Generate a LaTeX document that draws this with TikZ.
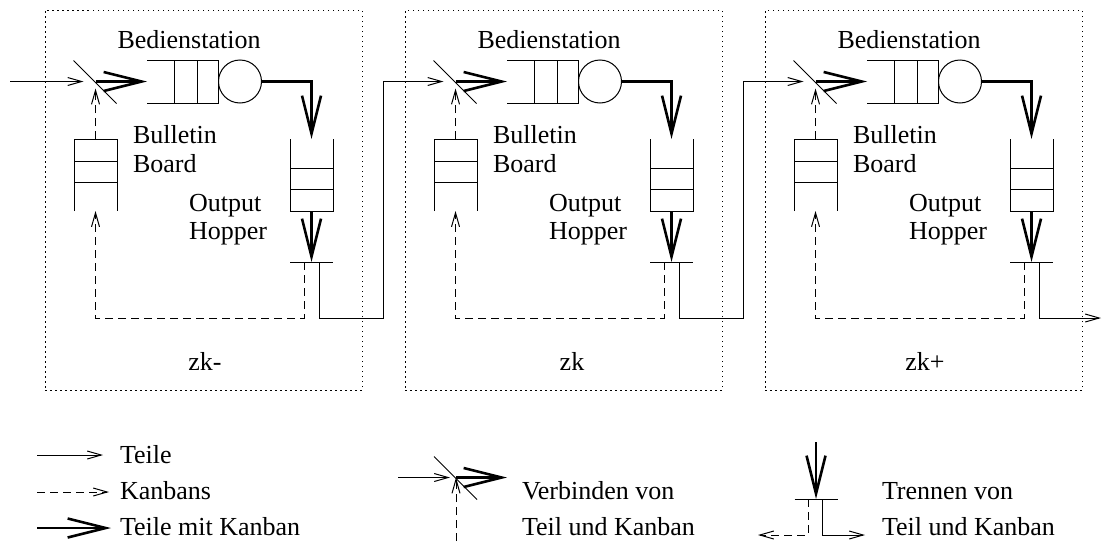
\documentclass[tikz,border=0pt]{standalone}
\usepackage{fontspec}
\setmainfont{Liberation Serif}
\usetikzlibrary{arrows.meta}
\begin{document}
\begin{tikzpicture}[x=1pt,y=-1pt,
  every node/.style={inner sep=0pt, outer sep=0pt},
  lbl/.style={font=\fontsize{26}{30}\selectfont, anchor=base west},
  clbl/.style={font=\fontsize{26}{30}\selectfont, anchor=base},
  part/.style={line width=1pt},
  partar/.style={part, -{Straight Barb[length=14pt,width=8pt]}},
  kan/.style={line width=1pt, dash pattern=on 8pt off 5pt},
  kanar/.style={kan, -{Straight Barb[length=14pt,width=8pt]}},
  thickar/.style={line width=2.6pt, -{Straight Barb[length=38pt,width=19pt]}},
  dotbox/.style={draw, line width=1pt, dash pattern=on 1.5pt off 3.5pt},
  box/.style={minimum width=43pt, minimum height=72pt},
  bar/.style={minimum width=43pt, minimum height=0pt}]
\useasboundingbox (0,0) rectangle (1103,541);

\foreach \i/\dx/\zx/\zl in {1/0/205/zk-, 2/360/212/zk, 3/720/205/zk+} {
\begin{scope}[xshift=\dx pt]
  \node[dotbox, minimum width=317pt, minimum height=380pt] (box\i) at (203.5,200) {};
  \coordinate (sw\i) at (95.5,81.5);
  \draw[part] (sw\i) +(-22,-21) -- +(21,22);
  % queue and server
  \node[minimum width=71pt, minimum height=43pt] (q\i) at (182.5,81.5) {};
  \draw[part] (q\i.north west) -- (q\i.north east) -- (q\i.south east) -- (q\i.south west);
  \draw[part] (q\i.north west) ++(27,0) -- ++(0,43)
              (q\i.north west) ++(50,0) -- ++(0,43);
  \node[circle, draw, line width=1pt, minimum size=43pt] (s\i) at (240,81.5) {};
  \draw[thickar] (sw\i) -- (q\i.west);
  % output hopper
  \node[box] (hp\i) at (311.5,175) {};
  \draw[part] (hp\i.north west) -- (hp\i.south west) -- (hp\i.south east) -- (hp\i.north east);
  \draw[part] (hp\i.south west) ++(0,-22) -- ++(43,0)
              (hp\i.south west) ++(0,-43) -- ++(43,0);
  \draw[thickar] (s\i.east) -| (hp\i.north);
  % separator
  \node[bar] (tb\i) at (311.5,262) {};
  \draw[part] (tb\i.west) -- (tb\i.east);
  \draw[thickar] (hp\i.south) -- (tb\i.center);
  \coordinate (kb\i) at (304,262);
  \coordinate (ot\i) at (319,262);
  % bulletin board
  \node[box] (bb\i) at (95.5,175) {};
  \draw[part] (bb\i.south west) -- (bb\i.north west) -- (bb\i.north east) -- (bb\i.south east);
  \draw[part] (bb\i.north west) ++(0,22) -- ++(43,0)
              (bb\i.north west) ++(0,43) -- ++(43,0);
  \coordinate (lo\i) at (95.5,318);
  \draw[kanar] (kb\i) |- (lo\i) -- (bb\i.south);
  \draw[kanar, shorten >=7pt] (bb\i.north) -- (sw\i);
  \coordinate (rs\i) at (383,318);
  % labels
  \node[clbl] (bed\i) at (189,48) {Bedienstation};
  \node[lbl] (bul\i) at (133,143) {Bulletin};
  \node[lbl] (brd\i) at (133,172) {Board};
  \node[lbl] (out\i) at (189,211) {Output};
  \node[lbl] (hop\i) at (189,239) {Hopper};
  \node[clbl] (zk\i) at (\zx,370) {\zl};
\end{scope}
}
% connectors between stations
\coordinate (in) at (10,81.5);
\draw[partar, shorten >=12pt] (in) -- (sw1);
\draw[partar, shorten >=12pt] (ot1) |- (rs1) |- (sw2);
\draw[partar, shorten >=12pt] (ot2) |- (rs2) |- (sw3);
\coordinate (end) at (1101,318);
\draw[partar] (ot3) |- (end);

% legend left
\coordinate (l1a) at (37,455); \coordinate (l1b) at (103,455);
\coordinate (l2a) at (37,492); \coordinate (l2b) at (109,492);
\coordinate (l3a) at (37,528); \coordinate (l3b) at (111,528);
\draw[partar] (l1a) -- (l1b);
\draw[kanar] (l2a) -- (l2b);
\draw[thickar] (l3a) -- (l3b);
\node[lbl] (lt1) at (120,463) {Teile};
\node[lbl] (lt2) at (120,499) {Kanbans};
\node[lbl] (lt3) at (120,535) {Teile mit Kanban};

% legend middle
\coordinate (vsw) at (456,477.5);
\coordinate (vin) at (398,477.5);
\coordinate (vout) at (507,477.5);
\coordinate (vk) at (456,541);
\draw[part] (vsw) +(-22,-21) -- +(21,22);
\draw[partar, shorten >=6pt] (vin) -- (vsw);
\draw[thickar] (vsw) -- (vout);
\draw[kanar] (vk) -- (vsw);
\node[lbl] (vt1) at (522,499) {Verbinden von};
\node[lbl] (vt2) at (522,535) {Teil und Kanban};

% legend right
\coordinate (ttop) at (816,442);
\node[bar] (ttb) at (816,499) {};
\draw[part] (ttb.west) -- (ttb.east);
\draw[thickar] (ttop) -- (ttb.center);
\coordinate (tk) at (808,499); \coordinate (tkl) at (758,535);
\coordinate (to) at (822,499); \coordinate (tor) at (865,535);
\draw[kanar] (tk) |- (tkl);
\draw[partar] (to) |- (tor);
\node[lbl] (tt1) at (882,499) {Trennen von};
\node[lbl] (tt2) at (882,535) {Teil und Kanban};
\end{tikzpicture}
\end{document}
